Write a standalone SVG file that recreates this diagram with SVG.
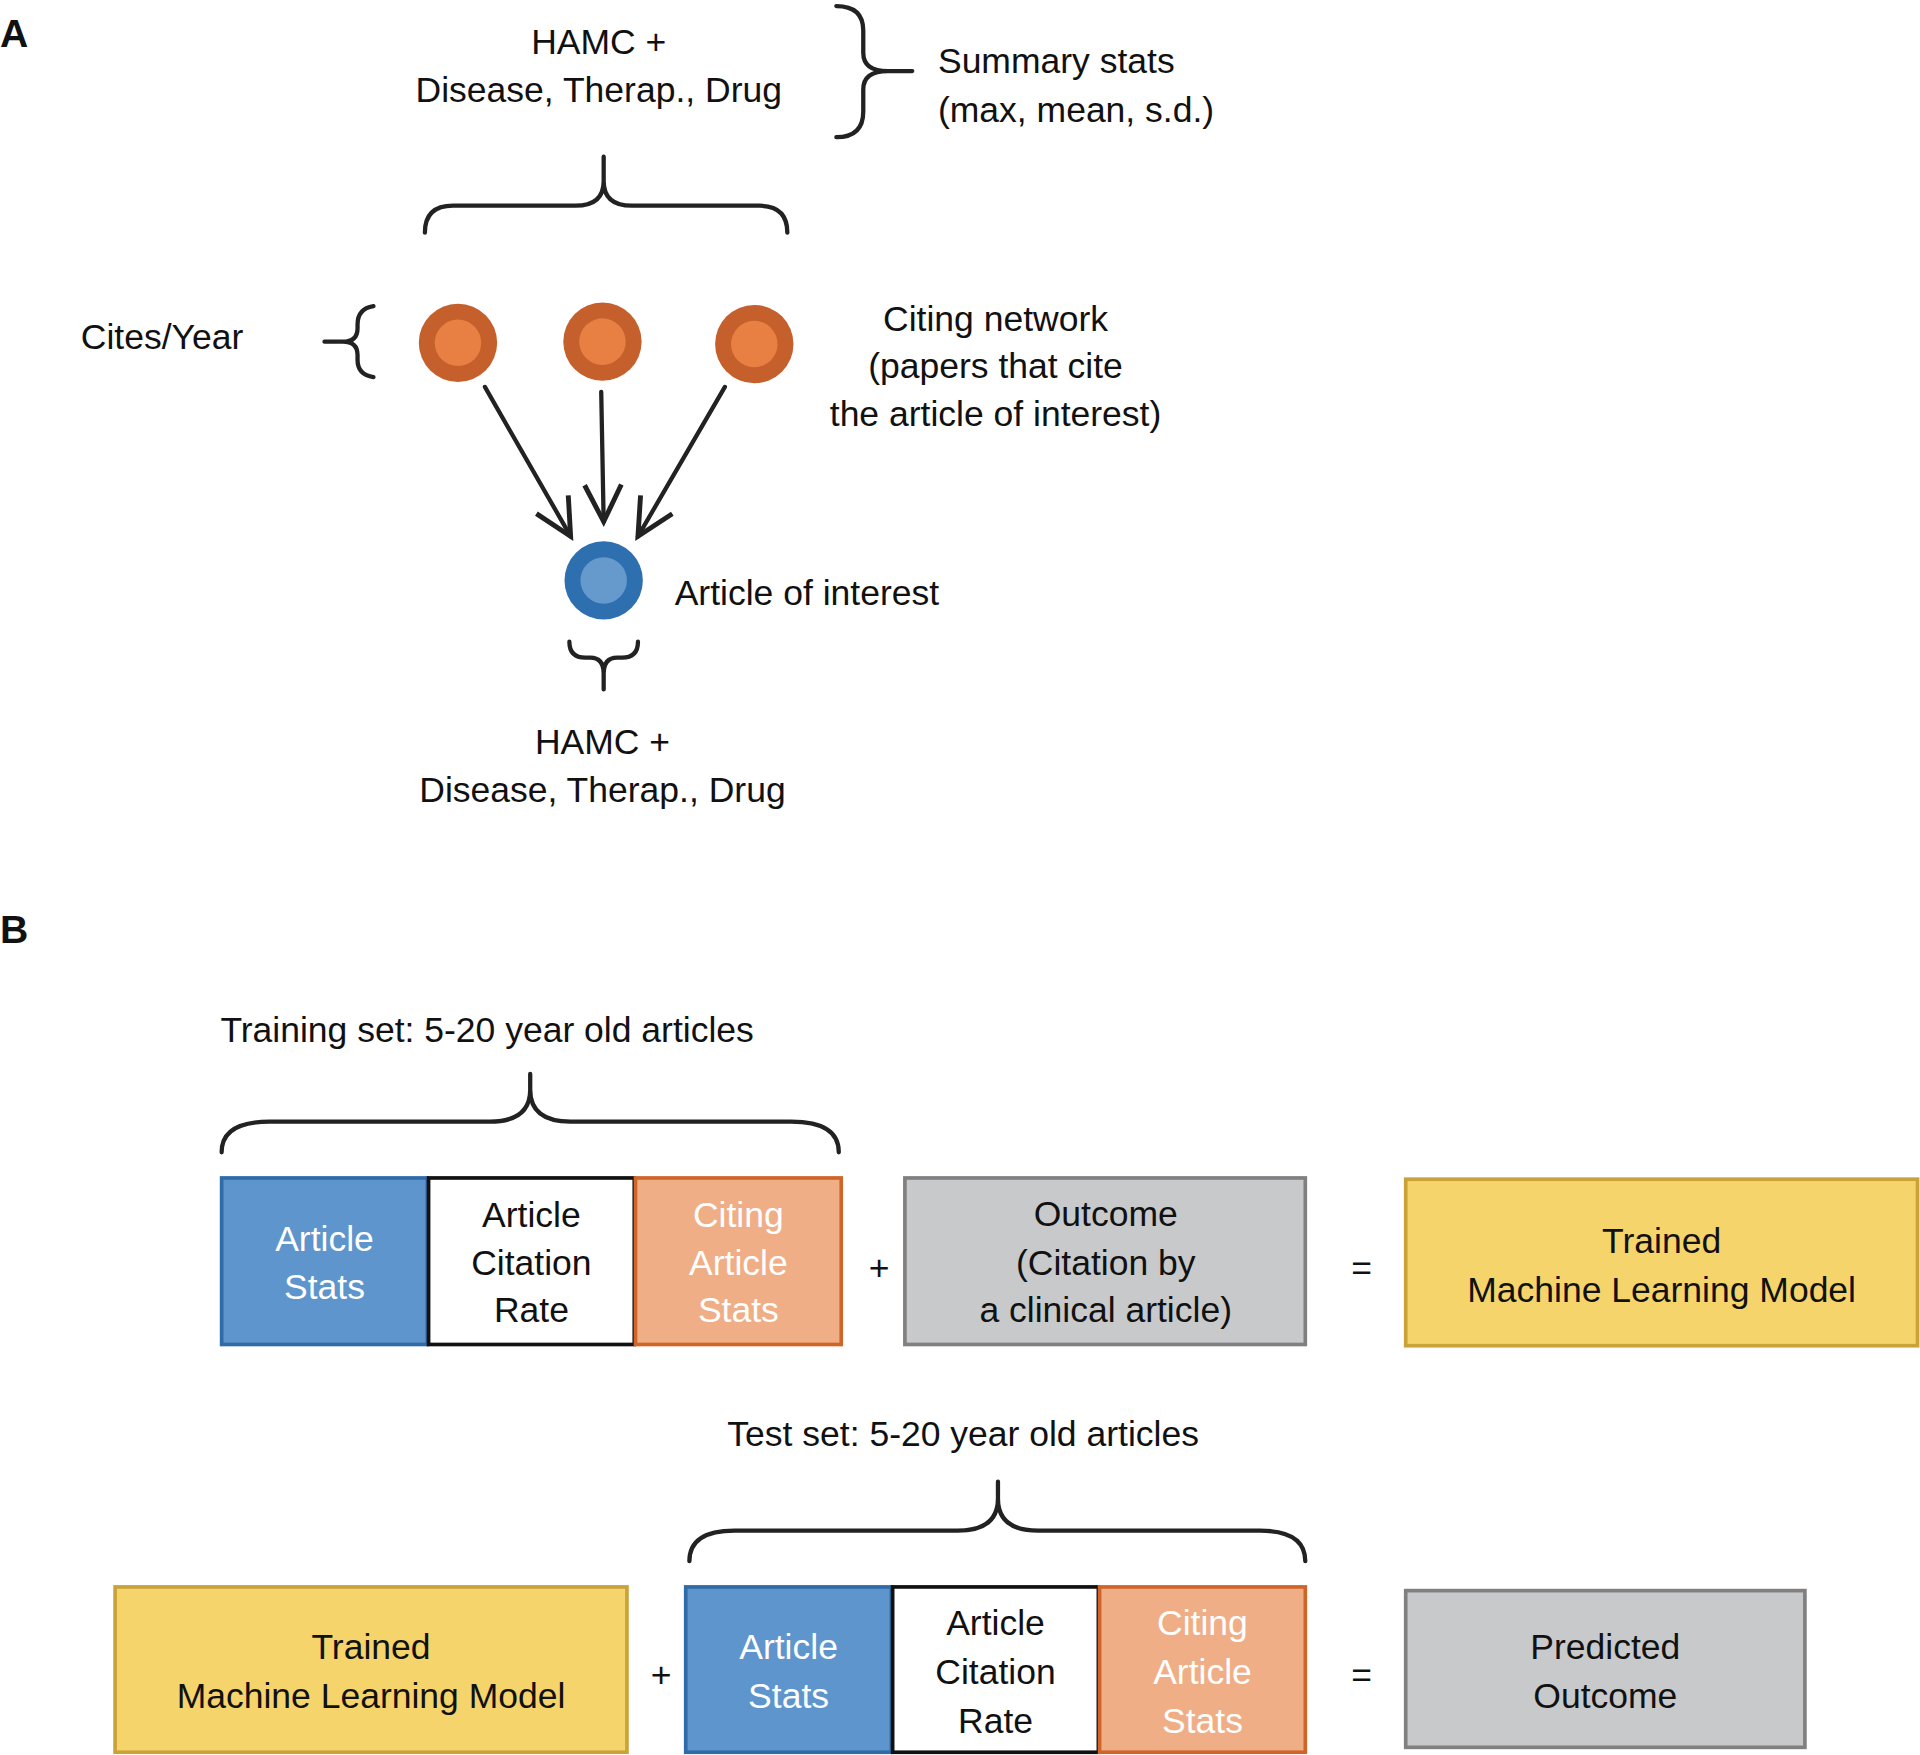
<svg xmlns="http://www.w3.org/2000/svg" width="1920" height="1755" viewBox="0 0 1920 1755">
<style>
text{font-family:"Liberation Sans",Arial,sans-serif;font-size:29px;fill:#111}
.c{text-anchor:middle}
.w{fill:#fff}
.lbl{font-weight:bold;font-size:32px}
.br{fill:none;stroke:#222;stroke-width:3.5;stroke-linecap:round}
.blue{fill:#5e95cc;stroke:#2f6ba9;stroke-width:3}
.white{fill:#fff;stroke:#111;stroke-width:3}
.orange{fill:#f0ae86;stroke:#d0652a;stroke-width:3}
.gray{fill:#c8c9cb;stroke:#808080;stroke-width:3}
.yellow{fill:#f5d46b;stroke:#c9a23a;stroke-width:3}
.oo{fill:#c55f2b}.oi{fill:#e88043}
</style>
<defs><marker id="ah" markerWidth="12" markerHeight="12" refX="10" refY="6" orient="auto" markerUnits="userSpaceOnUse"><path d="M0,0 L10,6 L0,12" fill="none" stroke="#222" stroke-width="2"/></marker>
<marker id="ah2" markerWidth="40" markerHeight="40" refX="35" refY="20" orient="auto" markerUnits="userSpaceOnUse"><path d="M5,5 L35,20 L5,35" fill="none" stroke="#222" stroke-width="4"/></marker></defs>
<g transform="scale(1.22449)">
<text class="lbl" x="0" y="38">A</text>
<g id="top-text"><text class="c" x="489" y="44">HAMC +</text><text class="c" x="489" y="83">Disease, Therap., Drug</text></g>
<g id="summary"><path class="br" d="M683,5 Q705,5 705,25 L705,43 Q705,58 725,58 L745,58 M725,58 Q705,58 705,73 L705,91 Q705,112 683,112"/>
<text x="766" y="60">Summary stats</text><text x="766" y="100">(max, mean, s.d.)</text></g>
<g id="top-brace"><path class="br" d="M347,190 Q347,168 370,168 L470,168 Q493,168 493,148 L493,128 M493,148 Q493,168 516,168 L620,168 Q643,168 643,190"/></g>
<g id="cites"><text x="66" y="285">Cites/Year</text><path class="br" d="M305,250 Q292,252 292,265 L292,268 Q292,279 280,279 L265,279 M280,279 Q292,279 292,290 L292,294 Q292,306 305,308"/></g>
<g id="c1"><circle class="oo" cx="374" cy="280" r="32"/><circle class="oi" cx="374" cy="280" r="19"/></g>
<g id="c2"><circle class="oo" cx="492" cy="279" r="32"/><circle class="oi" cx="492" cy="279" r="19"/></g>
<g id="c3"><circle class="oo" cx="616" cy="281" r="32"/><circle class="oi" cx="616" cy="281" r="19"/></g>
<g id="citing-text"><text class="c" x="813" y="270">Citing network</text><text class="c" x="813" y="309">(papers that cite</text><text class="c" x="813" y="348">the article of interest)</text></g>
<g id="connectors"><path class="br" marker-end="url(#ah2)" d="M396,316 L466,438"/><path class="br" marker-end="url(#ah2)" d="M491,320 L493,426"/><path class="br" marker-end="url(#ah2)" d="M592,316 L521,438"/></g>
<g id="article"><circle cx="493" cy="474" r="32" fill="#2e6fb0"/><circle cx="493" cy="474" r="19" fill="#6699cc"/><text x="551" y="494">Article of interest</text></g>
<g id="bottom-brace"><path class="br" d="M465,524 Q465,537 478,537 L482,537 Q493,537 493,550 L493,563 M493,550 Q493,537 504,537 L508,537 Q521,537 521,524"/>
<text class="c" x="492" y="616">HAMC +</text><text class="c" x="492" y="655">Disease, Therap., Drug</text></g>
<text class="lbl" x="0" y="770">B</text>
<g id="training"><text x="180" y="851">Training set: 5-20 year old articles</text>
<path class="br" d="M181,941 Q181,916 220,916 L400,916 Q433,916 433,890 L433,877 M433,890 Q433,916 466,916 L646,916 Q685,916 685,941"/></g>
<g id="r1-blue"><rect class="blue" x="181" y="962" width="168" height="136"/><text class="c w" x="265" y="1022">Article</text><text class="c w" x="265" y="1061">Stats</text></g>
<g id="r1-white"><rect class="white" x="350" y="962" width="168" height="136"/><text class="c" x="434" y="1002">Article</text><text class="c" x="434" y="1041">Citation</text><text class="c" x="434" y="1080">Rate</text></g>
<g id="r1-orange"><rect class="orange" x="519" y="962" width="168" height="136"/><text class="c w" x="603" y="1002">Citing</text><text class="c w" x="603" y="1041">Article</text><text class="c w" x="603" y="1080">Stats</text></g>
<text class="c" x="718" y="1045">+</text>
<g id="outcome"><rect class="gray" x="739" y="962" width="327" height="136"/><text class="c" x="903" y="1001">Outcome</text><text class="c" x="903" y="1041">(Citation by</text><text class="c" x="903" y="1080">a clinical article)</text></g>
<text class="c" x="1112" y="1045">=</text>
<g id="trained1"><rect class="yellow" x="1148" y="963" width="418" height="136"/><text class="c" x="1357" y="1023">Trained</text><text class="c" x="1357" y="1063">Machine Learning Model</text></g>
<g id="test"><text x="594" y="1181">Test set: 5-20 year old articles</text>
<path class="br" d="M563,1275 Q563,1250 600,1250 L782,1250 Q815,1250 815,1224 L815,1210 M815,1224 Q815,1250 848,1250 L1029,1250 Q1066,1250 1066,1275"/></g>
<g id="trained2"><rect class="yellow" x="94" y="1296" width="418" height="135"/><text class="c" x="303" y="1355">Trained</text><text class="c" x="303" y="1395">Machine Learning Model</text></g>
<text class="c" x="540" y="1378">+</text>
<g id="r2-blue"><rect class="blue" x="560" y="1296" width="168" height="135"/><text class="c w" x="644" y="1355">Article</text><text class="c w" x="644" y="1395">Stats</text></g>
<g id="r2-white"><rect class="white" x="729" y="1296" width="168" height="135"/><text class="c" x="813" y="1335">Article</text><text class="c" x="813" y="1375">Citation</text><text class="c" x="813" y="1415">Rate</text></g>
<g id="r2-orange"><rect class="orange" x="898" y="1296" width="168" height="135"/><text class="c w" x="982" y="1335">Citing</text><text class="c w" x="982" y="1375">Article</text><text class="c w" x="982" y="1415">Stats</text></g>
<text class="c" x="1112" y="1378">=</text>
<g id="predicted"><rect class="gray" x="1148" y="1299" width="326" height="128"/><text class="c" x="1311" y="1355">Predicted</text><text class="c" x="1311" y="1395">Outcome</text></g>
</g>
</svg>
